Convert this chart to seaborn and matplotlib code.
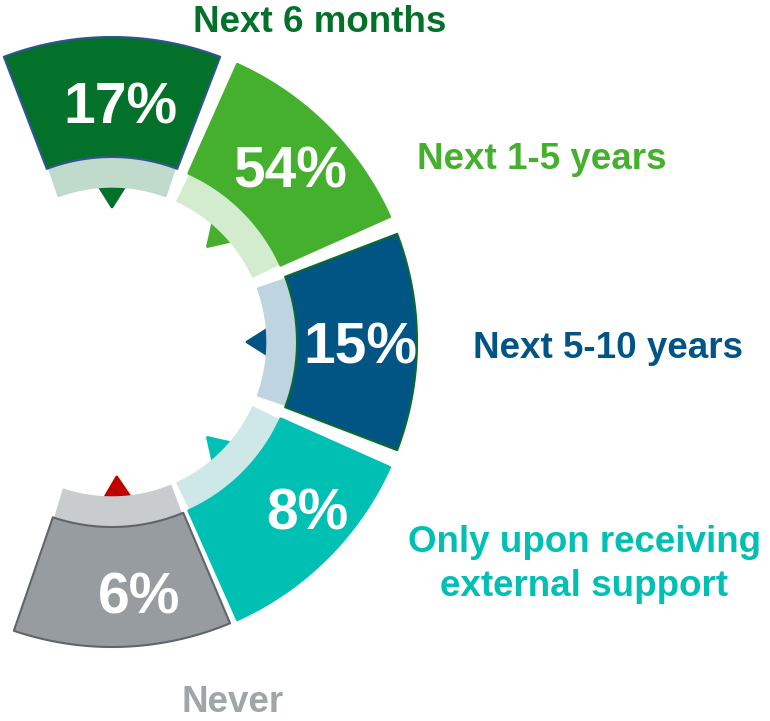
import numpy as np
import matplotlib
matplotlib.use("Agg")
import matplotlib.pyplot as plt
import seaborn as sns

# --- data -------------------------------------------------------------
categories = ["Next 6 months", "Next 1-5 years", "Next 5-10 years",
              "Only upon receiving\nexternal support", "Never"]
shares = [17, 54, 15, 8, 6]

# --- styling ----------------------------------------------------------
main_colors = ["#04712A", "#45B02D", "#005584", "#00BFB3", "#969C9F"]
band_colors = ["#C0DBCC", "#D3ECCE", "#BED4E1", "#CDE8E6", "#C8CCCF"]
edge_colors = ["#2F5597", "#45B02D", "#0B6B2E", "#00BFB3", "#5E666B"]
pointer_colors = ["#04712A", "#45B02D", "#005584", "#00BFB3", "#C00000"]
label_colors = ["#04712A", "#45B02D", "#005584", "#00BFB3", "#A0A5A8"]

sns.set_theme(style="white")
plt.rcParams["font.family"] = ["Liberation Sans", "DejaVu Sans"]

W, H = 770, 721
fig = plt.figure(figsize=(W / 100, H / 100), dpi=100)
ax = fig.add_axes([0, 0, 1, 1])
ax.set_xlim(0, W)
ax.set_ylim(H, 0)
ax.set_aspect("equal")
ax.axis("off")

# ring geometry (pixel space, y grows downward)
cx, cy = 112, 342
r_in, r_band, r_out = 155, 185, 305
gap = 12
step = 45.0
centers = [90, 45, 0, -45, -88]


def pt(r, ang):
    a = np.radians(ang)
    return cx + r * np.cos(a), cy - r * np.sin(a)


def ring_segment(r0, r1, ang_c):
    h0 = step / 2 - np.degrees(np.arcsin(gap / 2 / r0))
    h1 = step / 2 - np.degrees(np.arcsin(gap / 2 / r1)) - 0.6
    outer = np.linspace(ang_c + h1, ang_c - h1, 60)
    inner = np.linspace(ang_c - h0, ang_c + h0, 60)
    xs = [pt(r1, a)[0] for a in outer] + [pt(r0, a)[0] for a in inner]
    ys = [pt(r1, a)[1] for a in outer] + [pt(r0, a)[1] for a in inner]
    return xs, ys


def pointer(ang_c, r_tip=135, r_base=162, half_w=17):
    a = np.radians(ang_c)
    ux, uy = np.cos(a), -np.sin(a)
    px, py = -uy, ux
    tx, ty = cx + r_tip * ux, cy + r_tip * uy
    bx, by = cx + r_base * ux, cy + r_base * uy
    return ([tx, bx + half_w * px, bx - half_w * px],
            [ty, by + half_w * py, by - half_w * py])


for i, ang in enumerate(centers):
    xs, ys = pointer(ang)
    ax.fill(xs, ys, color=pointer_colors[i], lw=2, ec=pointer_colors[i],
            joinstyle="round", zorder=1)
    xs, ys = ring_segment(r_in, r_band, ang)
    ax.fill(xs, ys, color=band_colors[i], lw=1.0, ec=band_colors[i],
            joinstyle="round", zorder=2)
    xs, ys = ring_segment(r_band, r_out, ang)
    ax.fill(xs, ys, facecolor=main_colors[i], lw=1.5, ec=edge_colors[i],
            joinstyle="round", zorder=3)

# value labels inside the segments (x, baseline y)
value_pos = [(120, 123), (290, 187), (360, 363), (307, 530), (139, 613)]
for (x, y), v in zip(value_pos, shares):
    ax.text(x, y, f"{v}%", color="white", fontsize=41, fontweight="bold",
            ha="center", va="baseline", zorder=5)

# category labels around the ring (x, first-line baseline y)
label_pos = [(320, 32), (542, 169), (608, 358), (584, 552), (233, 712)]
line_gap = 44
for (x, y), name, col in zip(label_pos, categories, label_colors):
    for j, line in enumerate(name.split("\n")):
        ax.text(x, y + j * line_gap, line, color=col, fontsize=26.5,
                fontweight="bold", ha="center", va="baseline", zorder=5)

fig.savefig("out.png", dpi=100, facecolor="white")
